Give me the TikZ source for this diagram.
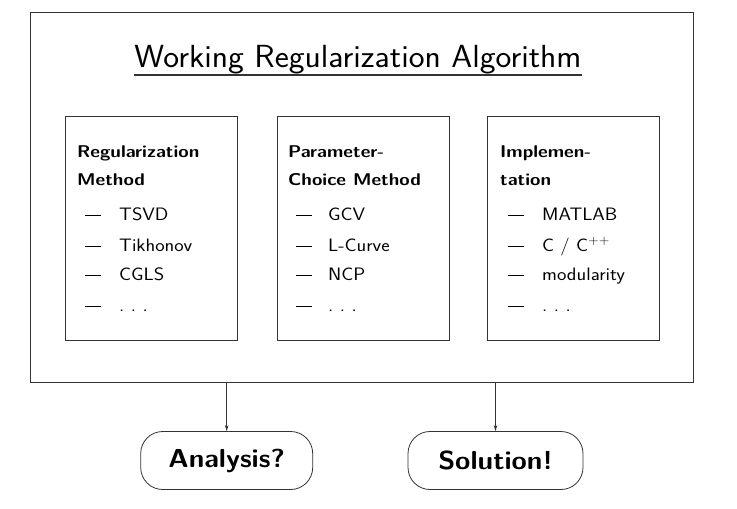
\documentclass[tikz,border=0pt]{standalone}
\usepackage{fontspec}
\newfontfamily\titlefont[FakeStretch=1.05]{Latin Modern Sans}
\newfontfamily\itemfont[FakeStretch=1.11]{Latin Modern Sans}
\newfontfamily\resfont[FakeStretch=1.07]{Latin Modern Sans}
\newcommand{\emrule}{\rule[0.26em]{16pt}{0.8pt}}
\newcommand{\sdots}{.\hspace{0.36em}.\hspace{0.36em}.}
\usetikzlibrary{arrows.meta}
\begin{document}
\begin{tikzpicture}[x=1pt,y=-1pt,
  frame/.style={draw=black!80, line width=0.8pt},
  box/.style={frame, minimum width=172pt, minimum height=224pt, inner sep=0pt},
  head/.style={anchor=base west, inner sep=0pt, font=\itemfont\bfseries\fontsize{17}{20}\selectfont},
  itm/.style={anchor=base west, inner sep=0pt, font=\itemfont\fontsize{18}{20}\selectfont},
  res/.style={frame, rounded corners=22pt, minimum width=172pt, minimum height=58pt, inner sep=0pt,
    font=\resfont\bfseries\fontsize{26}{30}\selectfont},
  arr/.style={draw=black!80, line width=0.7pt, -{Stealth[length=6pt,width=3.5pt]}}]
\useasboundingbox (0,0) rectangle (737,509);

% outer frame
\node[frame, minimum width=663pt, minimum height=370pt, inner sep=0pt] (outer) at (361.5,197) {};

% title
\node[anchor=base, inner sep=0pt, font=\titlefont\fontsize{32}{36}\selectfont] (title) at (358,67) {Working Regularization Algorithm};
\draw[draw=black!80, line width=1.2pt] (134,75) -- (582,75);

% inner boxes
\node[box] (b1) at (151.5,228) {};
\node[box] (b2) at (363.5,228) {};
\node[box] (b3) at (573.5,228) {};

% box 1
\node[head] (h1a) at (77,157) {Regularization};
\node[head] (h1b) at (77,185) {Method};
\node[itm] (d1a) at (85,220.5) {\emrule};  \node[itm] (t1a) at (119,220.5) {TSVD};
\node[itm] (d1b) at (85,251)   {\emrule};  \node[itm] (t1b) at (119,251)   {Tikhonov};
\node[itm] (d1c) at (85,280)   {\emrule};  \node[itm] (t1c) at (119,280)   {CGLS};
\node[itm] (d1d) at (85,311)   {\emrule};  \node[itm] (t1d) at (119,311)   {\sdots};

% box 2
\node[head] (h2a) at (288,157) {Parameter-};
\node[head] (h2b) at (288,185) {Choice Method};
\node[itm] (d2a) at (296,220.5) {\emrule};  \node[itm] (t2a) at (328,220.5) {GCV};
\node[itm] (d2b) at (296,251)   {\emrule};  \node[itm] (t2b) at (328,251)   {L-Curve};
\node[itm] (d2c) at (296,280)   {\emrule};  \node[itm] (t2c) at (328,280)   {NCP};
\node[itm] (d2d) at (296,311)   {\emrule};  \node[itm] (t2d) at (328,311)   {\sdots};

% box 3
\node[head] (h3a) at (500,157) {Implemen-};
\node[head] (h3b) at (500,185) {tation};
\node[itm] (d3a) at (508,220.5) {\emrule};  \node[itm] (t3a) at (542,220.5) {MATLAB};
\node[itm] (d3b) at (508,251)   {\emrule};  \node[itm] (t3b) at (542,251)   {C / C\textsuperscript{++}};
\node[itm] (d3c) at (508,280)   {\emrule};  \node[itm] (t3c) at (542,280)   {modularity};
\node[itm] (d3d) at (508,311)   {\emrule};  \node[itm] (t3d) at (542,311)   {\sdots};

% results
\node[res] (ana) at (226.7,460.5) {Analysis?};
\node[res, minimum width=175pt] (sol) at (495.5,460.5) {Solution!};

\draw[arr] (ana |- outer.south) -- (ana.north);
\draw[arr] (sol |- outer.south) -- (sol.north);
\end{tikzpicture}
\end{document}
